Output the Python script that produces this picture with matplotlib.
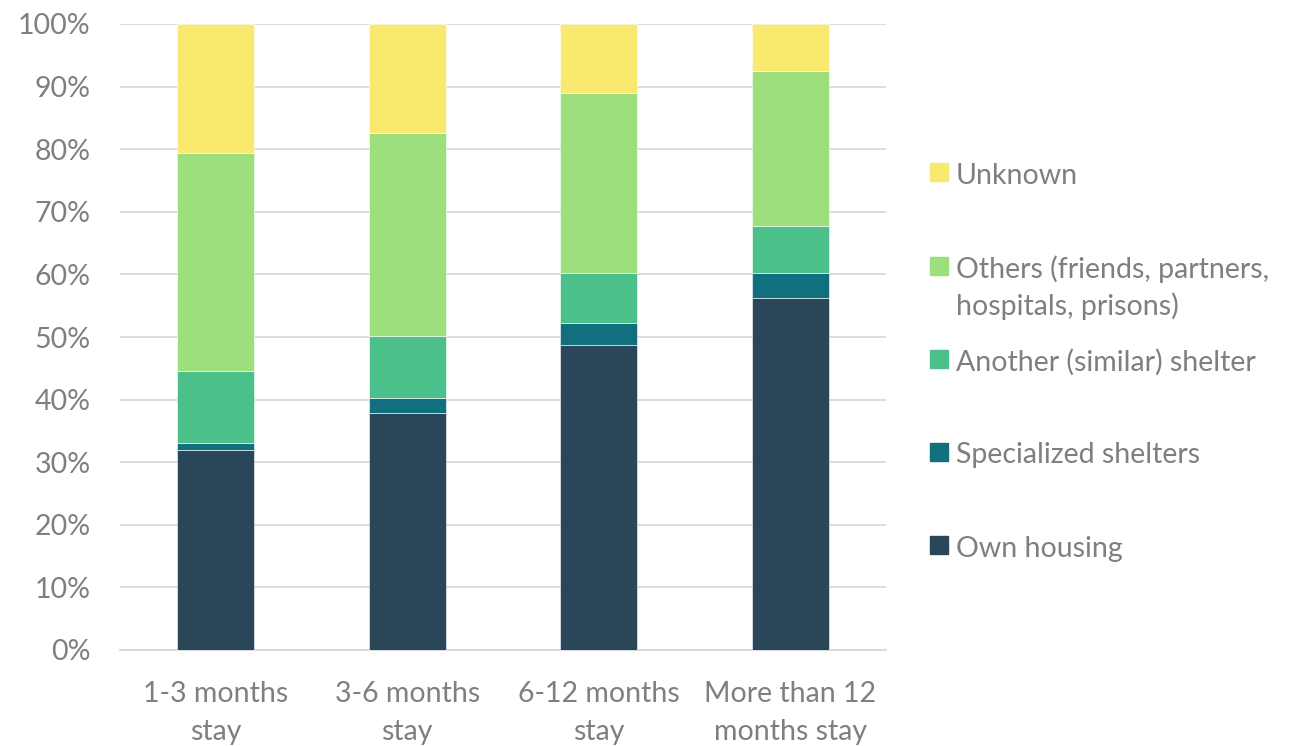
import matplotlib
matplotlib.use("Agg")
import matplotlib.pyplot as plt
from matplotlib.patches import Rectangle
import numpy as np

categories = ["1-3 months\nstay", "3-6 months\nstay", "6-12 months\nstay", "More than 12\nmonths stay"]
series_names = ["Own housing", "Specialized shelters", "Another (similar) shelter",
                "Others (friends, partners,\nhospitals, prisons)", "Unknown"]
own_housing = [32.0, 37.9, 48.7, 56.3]
specialized = [1.0, 2.3, 3.5, 3.9]
another_shelter = [11.5, 9.9, 8.1, 7.6]
others = [34.9, 32.5, 28.6, 24.7]
unknown = [20.6, 17.4, 11.1, 7.5]
yticks = [0, 10, 20, 30, 40, 50, 60, 70, 80, 90, 100]

colors = ["#2A475A", "#126F7D", "#4CC08B", "#9DDF7C", "#F9E96F"]
text_color = "#7F7F7F"
font = "Lato"
fs = 20.5

plt.rcParams['font.family'] = [font, 'DejaVu Sans']

fig = plt.figure(figsize=(13.01, 7.46), dpi=100)
ax = fig.add_axes([120/1301, 1-650/746, (886-120)/1301, (650-24)/746])

data = [own_housing, specialized, another_shelter, others, unknown]
x = np.arange(len(categories))
bottom = np.zeros(len(categories))
for vals, c, name in zip(data, colors, series_names):
    ax.bar(x, vals, width=0.4, bottom=bottom, color=c, edgecolor="white",
           linewidth=0.4, label=name, zorder=3)
    bottom += np.array(vals)

ax.set_xlim(-0.5, len(categories) - 0.5)
ax.set_ylim(0, 100)
ax.set_yticks(yticks)
ax.set_yticklabels([f"{v}%" for v in yticks])
ax.set_xticks(x)
ax.set_xticklabels(categories, linespacing=1.6)
ax.grid(axis="y", color="#D9D9D9", linewidth=1.3, zorder=0)
ax.set_axisbelow(True)
for s in ["top", "right", "left"]:
    ax.spines[s].set_visible(False)
ax.spines["bottom"].set_color("#D9D9D9")
ax.spines["bottom"].set_linewidth(1.3)
ax.tick_params(axis="both", length=0, labelsize=fs, labelcolor=text_color)
ax.tick_params(axis="y", pad=21)
ax.tick_params(axis="x", pad=22)

# legend drawn manually (Excel-style: marker aligned with first line)
leg_y = [545, 452, 359, 266, 172]
for name, c, yp in zip(series_names, colors, leg_y):
    fig.patches.append(Rectangle((930/1301, 1 - (yp + 9)/746), 18/1301, 18/746,
                                 transform=fig.transFigure, color=c, figure=fig))
    lines = name.split("\n")
    for i, ln in enumerate(lines):
        fig.text(956/1301, 1 - (yp + 1 + i*37)/746, ln, fontsize=fs, color=text_color,
                 va="center_baseline", ha="left")

fig.savefig("out.png", dpi=100)
